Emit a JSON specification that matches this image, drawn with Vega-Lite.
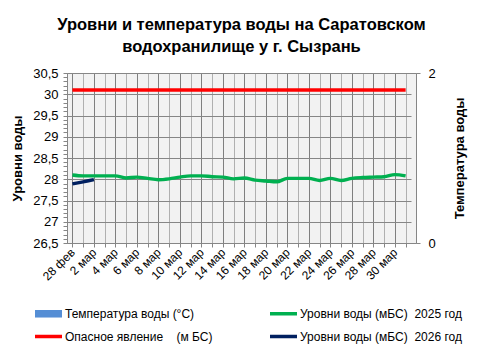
{
  "$schema": "https://vega.github.io/schema/vega-lite/v6.json",
  "width": 349,
  "height": 170,
  "autosize": {"type": "none"},
  "padding": {"left": 67, "top": 73, "right": 65, "bottom": 111},
  "background": "white",
  "config": {
    "view": {"fill": "#f2f2f2", "stroke": "#868686"},
    "font": "Liberation Sans",
    "axis": {"labelColor": "black", "titleColor": "black", "domainColor": "#868686", "tickColor": "#868686", "labelFont": "Liberation Sans", "titleFont": "Liberation Sans"}
  },
  "title": {
    "text": ["Уровни  и температура  воды на Саратовском", "водохранилище у  г. Сызрань"],
    "fontSize": 16.5,
    "fontWeight": "bold",
    "font": "Liberation Sans",
    "color": "black",
    "lineHeight": 22,
    "offset": 12,
    "anchor": "middle"
  },
  "data": {
    "values": [
      {"d": "28 фев", "s": "Уровни воды (мБС)\u00a0 2025 год", "v": 28.10},
      {"d": "1 мар", "s": "Уровни воды (мБС)\u00a0 2025 год", "v": 28.08},
      {"d": "2 мар", "s": "Уровни воды (мБС)\u00a0 2025 год", "v": 28.08},
      {"d": "3 мар", "s": "Уровни воды (мБС)\u00a0 2025 год", "v": 28.08},
      {"d": "4 мар", "s": "Уровни воды (мБС)\u00a0 2025 год", "v": 28.08},
      {"d": "5 мар", "s": "Уровни воды (мБС)\u00a0 2025 год", "v": 28.03},
      {"d": "6 мар", "s": "Уровни воды (мБС)\u00a0 2025 год", "v": 28.05},
      {"d": "7 мар", "s": "Уровни воды (мБС)\u00a0 2025 год", "v": 28.02},
      {"d": "8 мар", "s": "Уровни воды (мБС)\u00a0 2025 год", "v": 27.99},
      {"d": "9 мар", "s": "Уровни воды (мБС)\u00a0 2025 год", "v": 28.01},
      {"d": "10 мар", "s": "Уровни воды (мБС)\u00a0 2025 год", "v": 28.05},
      {"d": "11 мар", "s": "Уровни воды (мБС)\u00a0 2025 год", "v": 28.08},
      {"d": "12 мар", "s": "Уровни воды (мБС)\u00a0 2025 год", "v": 28.08},
      {"d": "13 мар", "s": "Уровни воды (мБС)\u00a0 2025 год", "v": 28.06},
      {"d": "14 мар", "s": "Уровни воды (мБС)\u00a0 2025 год", "v": 28.05},
      {"d": "15 мар", "s": "Уровни воды (мБС)\u00a0 2025 год", "v": 28.01},
      {"d": "16 мар", "s": "Уровни воды (мБС)\u00a0 2025 год", "v": 28.03},
      {"d": "17 мар", "s": "Уровни воды (мБС)\u00a0 2025 год", "v": 27.98},
      {"d": "18 мар", "s": "Уровни воды (мБС)\u00a0 2025 год", "v": 27.96},
      {"d": "19 мар", "s": "Уровни воды (мБС)\u00a0 2025 год", "v": 27.94},
      {"d": "20 мар", "s": "Уровни воды (мБС)\u00a0 2025 год", "v": 28.02},
      {"d": "21 мар", "s": "Уровни воды (мБС)\u00a0 2025 год", "v": 28.02},
      {"d": "22 мар", "s": "Уровни воды (мБС)\u00a0 2025 год", "v": 28.02},
      {"d": "23 мар", "s": "Уровни воды (мБС)\u00a0 2025 год", "v": 27.97},
      {"d": "24 мар", "s": "Уровни воды (мБС)\u00a0 2025 год", "v": 28.02},
      {"d": "25 мар", "s": "Уровни воды (мБС)\u00a0 2025 год", "v": 27.97},
      {"d": "26 мар", "s": "Уровни воды (мБС)\u00a0 2025 год", "v": 28.02},
      {"d": "27 мар", "s": "Уровни воды (мБС)\u00a0 2025 год", "v": 28.04},
      {"d": "28 мар", "s": "Уровни воды (мБС)\u00a0 2025 год", "v": 28.05},
      {"d": "29 мар", "s": "Уровни воды (мБС)\u00a0 2025 год", "v": 28.06},
      {"d": "30 мар", "s": "Уровни воды (мБС)\u00a0 2025 год", "v": 28.11},
      {"d": "31 мар", "s": "Уровни воды (мБС)\u00a0 2025 год", "v": 28.08},
      {"d": "28 фев", "s": "Опасное явление \u00a0\u00a0 (м БС)", "v": 30.1},
      {"d": "1 мар", "s": "Опасное явление \u00a0\u00a0 (м БС)", "v": 30.1},
      {"d": "2 мар", "s": "Опасное явление \u00a0\u00a0 (м БС)", "v": 30.1},
      {"d": "3 мар", "s": "Опасное явление \u00a0\u00a0 (м БС)", "v": 30.1},
      {"d": "4 мар", "s": "Опасное явление \u00a0\u00a0 (м БС)", "v": 30.1},
      {"d": "5 мар", "s": "Опасное явление \u00a0\u00a0 (м БС)", "v": 30.1},
      {"d": "6 мар", "s": "Опасное явление \u00a0\u00a0 (м БС)", "v": 30.1},
      {"d": "7 мар", "s": "Опасное явление \u00a0\u00a0 (м БС)", "v": 30.1},
      {"d": "8 мар", "s": "Опасное явление \u00a0\u00a0 (м БС)", "v": 30.1},
      {"d": "9 мар", "s": "Опасное явление \u00a0\u00a0 (м БС)", "v": 30.1},
      {"d": "10 мар", "s": "Опасное явление \u00a0\u00a0 (м БС)", "v": 30.1},
      {"d": "11 мар", "s": "Опасное явление \u00a0\u00a0 (м БС)", "v": 30.1},
      {"d": "12 мар", "s": "Опасное явление \u00a0\u00a0 (м БС)", "v": 30.1},
      {"d": "13 мар", "s": "Опасное явление \u00a0\u00a0 (м БС)", "v": 30.1},
      {"d": "14 мар", "s": "Опасное явление \u00a0\u00a0 (м БС)", "v": 30.1},
      {"d": "15 мар", "s": "Опасное явление \u00a0\u00a0 (м БС)", "v": 30.1},
      {"d": "16 мар", "s": "Опасное явление \u00a0\u00a0 (м БС)", "v": 30.1},
      {"d": "17 мар", "s": "Опасное явление \u00a0\u00a0 (м БС)", "v": 30.1},
      {"d": "18 мар", "s": "Опасное явление \u00a0\u00a0 (м БС)", "v": 30.1},
      {"d": "19 мар", "s": "Опасное явление \u00a0\u00a0 (м БС)", "v": 30.1},
      {"d": "20 мар", "s": "Опасное явление \u00a0\u00a0 (м БС)", "v": 30.1},
      {"d": "21 мар", "s": "Опасное явление \u00a0\u00a0 (м БС)", "v": 30.1},
      {"d": "22 мар", "s": "Опасное явление \u00a0\u00a0 (м БС)", "v": 30.1},
      {"d": "23 мар", "s": "Опасное явление \u00a0\u00a0 (м БС)", "v": 30.1},
      {"d": "24 мар", "s": "Опасное явление \u00a0\u00a0 (м БС)", "v": 30.1},
      {"d": "25 мар", "s": "Опасное явление \u00a0\u00a0 (м БС)", "v": 30.1},
      {"d": "26 мар", "s": "Опасное явление \u00a0\u00a0 (м БС)", "v": 30.1},
      {"d": "27 мар", "s": "Опасное явление \u00a0\u00a0 (м БС)", "v": 30.1},
      {"d": "28 мар", "s": "Опасное явление \u00a0\u00a0 (м БС)", "v": 30.1},
      {"d": "29 мар", "s": "Опасное явление \u00a0\u00a0 (м БС)", "v": 30.1},
      {"d": "30 мар", "s": "Опасное явление \u00a0\u00a0 (м БС)", "v": 30.1},
      {"d": "31 мар", "s": "Опасное явление \u00a0\u00a0 (м БС)", "v": 30.1},
      {"d": "28 фев", "s": "Уровни воды (мБС)\u00a0 2026 год", "v": 27.89},
      {"d": "1 мар", "s": "Уровни воды (мБС)\u00a0 2026 год", "v": 27.94},
      {"d": "2 мар", "s": "Уровни воды (мБС)\u00a0 2026 год", "v": 27.99}
    ]
  },
  "layer": [
    {
      "mark": {"type": "bar", "color": "#558ed5"},
      "encoding": {
        "x": {"field": "d", "type": "ordinal"},
        "y": {
          "field": "t",
          "type": "quantitative",
          "scale": {"domain": [0, 2], "nice": false},
          "axis": {
            "orient": "right",
            "values": [0, 2],
            "title": "Температура воды",
            "titleAngle": 270,
            "titleBaseline": "bottom",
            "titleFontSize": 13,
            "titleFontWeight": "bold",
            "titlePadding": 31,
            "grid": false,
            "tickSize": 4,
            "labelFontSize": 13,
            "labelPadding": 8
          }
        }
      }
    },
    {
      "mark": {"type": "line", "interpolate": "monotone", "strokeWidth": 3.4},
      "encoding": {
        "x": {
          "field": "d",
          "type": "ordinal",
          "scale": {
            "type": "point",
            "domain": ["28 фев", "1 мар", "2 мар", "3 мар", "4 мар", "5 мар", "6 мар", "7 мар", "8 мар", "9 мар", "10 мар", "11 мар", "12 мар", "13 мар", "14 мар", "15 мар", "16 мар", "17 мар", "18 мар", "19 мар", "20 мар", "21 мар", "22 мар", "23 мар", "24 мар", "25 мар", "26 мар", "27 мар", "28 мар", "29 мар", "30 мар", "31 мар"],
            "range": [0, 344]
          },
          "axis": {
            "title": null,
            "labelAngle": -45,
            "labelFontSize": 12,
            "labelPadding": 3,
            "tickSize": 4,
            "labelOverlap": false,
            "labelExpr": "indexof(['28 фев','2 мар','4 мар','6 мар','8 мар','10 мар','12 мар','14 мар','16 мар','18 мар','20 мар','22 мар','24 мар','26 мар','28 мар','30 мар'], datum.value) >= 0 ? datum.value : ''",
            "grid": true,
            "gridColor": {
              "condition": {"test": "indexof(['28 фев','2 мар','4 мар','6 мар','8 мар','10 мар','12 мар','14 мар','16 мар','18 мар','20 мар','22 мар','24 мар','26 мар','28 мар','30 мар'], datum.value) >= 0", "value": "#7f7f7f"},
              "value": "#b0b0b0"
            }
          }
        },
        "y": {
          "field": "v",
          "type": "quantitative",
          "scale": {"domain": [26.5, 30.5], "nice": false, "zero": false},
          "axis": {
            "values": [26.5, 26.6, 26.7, 26.8, 26.9, 27, 27.1, 27.2, 27.3, 27.4, 27.5, 27.6, 27.7, 27.8, 27.9, 28, 28.1, 28.2, 28.3, 28.4, 28.5, 28.6, 28.7, 28.8, 28.9, 29, 29.1, 29.2, 29.3, 29.4, 29.5, 29.6, 29.7, 29.8, 29.9, 30, 30.1, 30.2, 30.3, 30.4, 30.5],
            "labelExpr": "abs(datum.value*2 - round(datum.value*2)) < 0.001 ? replace(format(datum.value, '.1~f'), '.', ',') : ''",
            "labelOverlap": false,
            "labelFontSize": 13,
            "labelPadding": 5,
            "tickSize": 4,
            "grid": true,
            "gridColor": "#868686",
            "gridOpacity": {
              "condition": {"test": "abs(datum.value*2 - round(datum.value*2)) < 0.001", "value": 1},
              "value": 0
            },
            "title": "Уровни воды",
            "titleFontSize": 13,
            "titleFontWeight": "bold",
            "titlePadding": 8
          }
        },
        "color": {
          "field": "s",
          "type": "nominal",
          "scale": {
            "domain": ["Температура воды (°C)", "Уровни воды (мБС)\u00a0 2025 год", "Опасное явление \u00a0\u00a0 (м БС)", "Уровни воды (мБС)\u00a0 2026 год"],
            "range": ["#558ed5", "#00b050", "#ff0000", "#002060"]
          },
          "legend": {
            "orient": "none",
            "legendX": -32,
            "legendY": 227,
            "direction": "horizontal",
            "columns": 2,
            "title": null,
            "symbolType": "M-1,-0.13H1V0.13H-1Z",
            "symbolSize": 729,
            "symbolStrokeWidth": 0,
            "labelFontSize": 12,
            "labelFont": "Liberation Sans",
            "labelColor": "black",
            "labelLimit": 300,
            "labelOffset": 3,
            "columnPadding": 57,
            "rowPadding": 3,
            "encode": {
              "symbols": {
                "update": {
                  "shape": {"signal": "datum.value === 'Температура воды (°C)' ? 'M-1,-0.28H1V0.28H-1Z' : 'M-1,-0.13H1V0.13H-1Z'"},
                  "fill": {"signal": "scale('color', datum.value)"},
                  "fillOpacity": {"value": 1},
                  "strokeWidth": {"value": 0}
                }
              }
            }
          }
        }
      }
    }
  ],
  "resolve": {"scale": {"y": "independent"}}
}
